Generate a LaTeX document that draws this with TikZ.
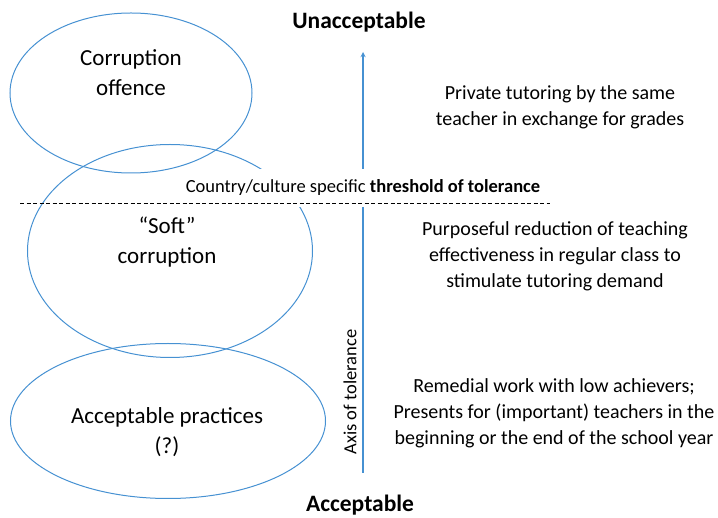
\documentclass[tikz,border=0pt]{standalone}
\usepackage{fontspec}
\setmainfont{Carlito}
\usetikzlibrary{shapes.geometric,arrows}
\definecolor{zoneblue}{RGB}{70,145,210}

\begin{document}
\begin{tikzpicture}[x=1pt,y=-1pt, >=stealth,
    zone/.style={ellipse, draw=zoneblue, line width=1pt, inner sep=0pt},
    zonetext/.style={align=center, font=\fontsize{23}{30}\selectfont},
    note/.style={align=center, font=\fontsize{20}{26}\selectfont},
    pole/.style={font=\fontsize{23.5}{28}\selectfont\bfseries}]
  \useasboundingbox (0,0) rectangle (718,518);
  \node[zone,minimum width=242pt,minimum height=160pt] (offence) at (131,93) {};
  \node[zone,minimum width=285pt,minimum height=213pt] (soft) at (170,251) {};
  \node[zone,minimum width=315pt,minimum height=155pt] (accept) at (168,421) {};
  \node[zonetext] (offencetext) at (131,73) {Corruption\\offence};
  \node[zonetext] (softtext) at (167,242) {``Soft''\\corruption};
  \node[zonetext] (accepttext) at (167,432) {Acceptable practices\\(?)};
  \draw[->,draw=zoneblue,line width=1.3pt] (363,473) -- (363,52);
  \node[fill=white,inner xsep=2pt,inner ysep=11pt,font=\fontsize{18.5}{22}\selectfont] (limit) at (363,188)
    {Country/culture specific \textbf{threshold of tolerance}};
  \draw[dashed,dash pattern=on 4pt off 2.5pt] (20,203) -- (550,203);
  \node[rotate=90,font=\fontsize{18.5}{22}\selectfont] (axis) at (350,392) {Axis of tolerance};
  \node[pole] (top) at (359,22) {Unacceptable};
  \node[pole] (bottom) at (360,505) {Acceptable};
  \node[note] (n1) at (560,107) {Private tutoring by the same\\teacher in exchange for grades};
  \node[note] (n2) at (555,256) {Purposeful reduction of teaching\\effectiveness in regular class to\\stimulate tutoring demand};
  \node[note] (n3) at (554,413) {Remedial work with low achievers;\\Presents for (important) teachers in the\\beginning or the end of the school year};
\end{tikzpicture}
\end{document}
